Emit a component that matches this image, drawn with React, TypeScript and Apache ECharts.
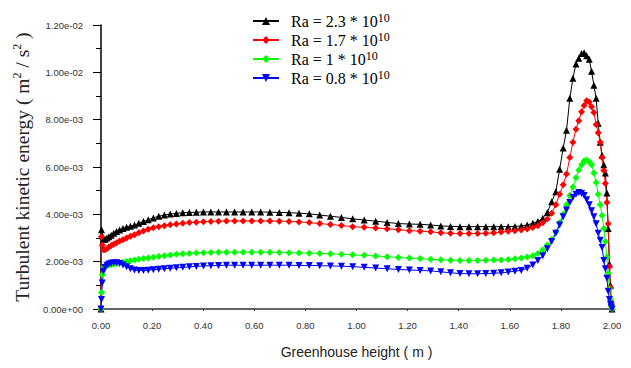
import React, { useEffect, useRef } from "react";
import * as echarts from "echarts";

// Greenhouse height (m) — shared mesh for all four series
const HEIGHT_M = [
  0, 0.002, 0.005, 0.01, 0.016, 0.023, 0.031, 0.04, 0.05, 0.061,
  0.073, 0.086, 0.1, 0.115, 0.131, 0.148, 0.166, 0.185, 0.205, 0.226,
  0.248, 0.271, 0.295, 0.32, 0.346, 0.373, 0.401, 0.43, 0.46, 0.491,
  0.523, 0.556, 0.59, 0.625, 0.661, 0.698, 0.736, 0.775, 0.815, 0.856,
  0.898, 0.941, 0.985, 1.03, 1.075, 1.12, 1.164, 1.207, 1.249, 1.29,
  1.33, 1.368, 1.405, 1.44, 1.474, 1.506, 1.537, 1.566, 1.594, 1.62,
  1.645, 1.668, 1.69, 1.71, 1.729, 1.747, 1.764, 1.78, 1.795, 1.809,
  1.822, 1.835, 1.847, 1.859, 1.87, 1.881, 1.891, 1.901, 1.911, 1.92,
  1.929, 1.938, 1.946, 1.954, 1.961, 1.968, 1.974, 1.98, 1.985, 1.99,
  1.994, 1.997, 2.0,
];

// Turbulent kinetic energy, in units of 1e-3 m²/s²
const TKE_UNIT = 1e-3;

const RA_2_3 = [
  0, 3.35, 3.1, 2.95, 2.95, 3.0, 3.05, 3.12, 3.2, 3.27,
  3.34, 3.4, 3.45, 3.5, 3.55, 3.62, 3.7, 3.77, 3.85, 3.92,
  3.97, 4.01, 4.04, 4.07, 4.08, 4.09, 4.1, 4.1, 4.1, 4.1,
  4.1, 4.1, 4.1, 4.1, 4.09, 4.08, 4.07, 4.05, 4.02, 3.97,
  3.92, 3.87, 3.81, 3.76, 3.71, 3.66, 3.61, 3.59, 3.58, 3.55,
  3.51, 3.49, 3.48, 3.48, 3.48, 3.48, 3.48, 3.48, 3.48, 3.49,
  3.51, 3.55, 3.62, 3.7, 3.83, 4.08, 4.53, 4.95, 5.9, 6.8,
  7.55, 8.9, 9.75, 10.35, 10.6, 10.8, 10.83, 10.7, 10.55, 10.05,
  9.45, 8.9, 7.85, 7.05, 6.5, 6.1, 5.75, 4.9, 3.4, 1.9,
  1.0, 0.3, 0,
];

const RA_1_7 = [
  0, 3.05, 2.7, 2.5, 2.5, 2.55, 2.62, 2.68, 2.74, 2.8,
  2.87, 2.93, 3.0, 3.07, 3.14, 3.22, 3.3, 3.37, 3.43, 3.48,
  3.52, 3.56, 3.59, 3.62, 3.65, 3.67, 3.69, 3.7, 3.71, 3.72,
  3.72, 3.72, 3.72, 3.72, 3.72, 3.71, 3.7, 3.68, 3.65, 3.61,
  3.57, 3.53, 3.48, 3.45, 3.42, 3.39, 3.35, 3.31, 3.29, 3.26,
  3.22, 3.2, 3.19, 3.19, 3.19, 3.2, 3.22, 3.25, 3.28, 3.31,
  3.34, 3.38, 3.44, 3.52, 3.64, 3.8, 4.05, 4.4, 4.85, 5.25,
  5.7, 6.4, 7.05, 7.6, 7.95, 8.33, 8.6, 8.8, 8.75, 8.55,
  8.3, 7.8, 7.45, 7.05, 6.4, 5.85, 5.3, 4.5, 3.6, 1.8,
  0.9, 0.3, 0,
];

const RA_1_0 = [
  0, 0.7, 1.45, 1.76, 1.8, 1.84, 1.86, 1.88, 1.9, 1.92,
  1.95, 1.98, 2.01, 2.04, 2.07, 2.1, 2.13, 2.16, 2.19, 2.22,
  2.25, 2.28, 2.31, 2.33, 2.35, 2.37, 2.38, 2.39, 2.4, 2.4,
  2.4, 2.4, 2.4, 2.4, 2.4, 2.39, 2.38, 2.37, 2.36, 2.35,
  2.33, 2.31, 2.29, 2.27, 2.24, 2.21, 2.18, 2.15, 2.13, 2.1,
  2.08, 2.06, 2.05, 2.05, 2.05, 2.06, 2.07, 2.07, 2.09, 2.12,
  2.15, 2.2, 2.25, 2.35, 2.5, 2.7, 2.95, 3.25, 3.65, 4.0,
  4.4, 4.8, 5.15, 5.55, 5.87, 6.1, 6.25, 6.3, 6.22, 6.1,
  5.75, 5.35, 4.85, 4.4, 3.95, 3.4, 2.85, 2.2, 1.5, 0.85,
  0.4, 0.12, 0,
];

const RA_0_8 = [
  0, 0.4, 1.1, 1.6, 1.75, 1.85, 1.9, 1.93, 1.95, 1.95,
  1.92, 1.86, 1.78, 1.7, 1.65, 1.63, 1.63, 1.64, 1.66, 1.68,
  1.7, 1.72, 1.74, 1.76, 1.78, 1.8, 1.82, 1.83, 1.84, 1.85,
  1.85, 1.85, 1.85, 1.85, 1.85, 1.85, 1.85, 1.84, 1.84, 1.83,
  1.82, 1.81, 1.79, 1.76, 1.73, 1.7, 1.67, 1.65, 1.63, 1.61,
  1.57, 1.53, 1.5, 1.49, 1.49, 1.5, 1.51, 1.53, 1.56, 1.6,
  1.63, 1.72, 1.86, 2.05, 2.25, 2.55, 2.85, 3.2, 3.55, 3.9,
  4.18, 4.5, 4.72, 4.85, 4.92, 4.88, 4.8, 4.62, 4.4, 4.15,
  3.9, 3.6, 3.2, 2.9, 2.6, 2.05, 1.7, 1.3, 0.75, 0.4,
  0.2, 0.08, 0,
];

const SERIES_NAMES = ["Ra = 2.3 * 10", "Ra = 1.7 * 10", "Ra = 1 * 10", "Ra = 0.8 * 10"];
const SERIES_VALUES = [RA_2_3, RA_1_7, RA_1_0, RA_0_8];
const SERIES_COLORS = ["#000000", "#ff0000", "#00ff00", "#0000ff"];
const SERIES_SYMBOLS = ["triangle", "diamond", "diamond", "triangle"];
const SERIES_ROTATE = [0, 0, 0, 180];
const SERIES_SIZES = [7, 7, 7, 7];

const X_MIN = 0;
const X_MAX = 2;
const X_STEP = 0.2;
const Y_MIN = 0;
const Y_MAX = 0.012;
const Y_STEP = 0.002;

function sci(v: number): string {
  const s = v.toExponential(2);
  const [m, e] = s.split("e");
  const sign = e[0] === "-" ? "-" : "+";
  const digits = e.replace(/[+-]/, "").padStart(2, "0");
  return `${m}e${sign}${digits}`;
}

export default function App() {
  const ref = useRef<HTMLDivElement>(null);

  useEffect(() => {
    if (!ref.current) return;
    const chart = echarts.init(ref.current, null, { renderer: "svg" });

    const series = SERIES_NAMES.map((name, k) => ({
      name,
      type: "line",
      data: HEIGHT_M.map((x, i) => [x, SERIES_VALUES[k][i] * TKE_UNIT]),
      symbol: SERIES_SYMBOLS[k],
      symbolRotate: SERIES_ROTATE[k],
      symbolSize: SERIES_SIZES[k],
      showAllSymbol: true,
      lineStyle: { color: SERIES_COLORS[k], width: 1 },
      itemStyle: { color: SERIES_COLORS[k] },
      emphasis: { disabled: true },
    }));

    chart.setOption({
      animation: false,
      grid: { left: 101, right: 19, top: 25, bottom: 59, containLabel: false },
      legend: {
        orient: "vertical",
        left: 247,
        top: 7,
        itemWidth: 26,
        itemHeight: 10,
        itemGap: 2,
        data: SERIES_NAMES,
        formatter: (name: string) => `{b|${name}}{s|10}`,
        textStyle: {
          rich: {
            b: {
              fontFamily: "Liberation Serif",
              fontSize: 16,
              color: "#000",
              lineHeight: 18,
              padding: [0, 0, 0, 7],
            },
            s: {
              fontFamily: "Liberation Serif",
              fontSize: 12,
              color: "#000",
              lineHeight: 12,
              verticalAlign: "top",
            },
          },
        },
      },
      xAxis: {
        type: "value",
        min: X_MIN,
        max: X_MAX,
        interval: X_STEP,
        name: "Greenhouse height ( m )",
        nameLocation: "middle",
        nameGap: 36,
        nameTextStyle: { fontFamily: "Liberation Sans", fontSize: 14, color: "#222" },
        axisLine: { show: true, lineStyle: { color: "#333", width: 1.5 } },
        axisTick: { show: true, length: 2, lineStyle: { color: "#333" } },
        axisLabel: {
          margin: 11,
          fontFamily: "Liberation Sans",
          fontSize: 9.5,
          color: "#333",
          formatter: (v: number) => v.toFixed(2),
        },
        splitLine: { show: false },
      },
      yAxis: {
        type: "value",
        min: Y_MIN,
        max: Y_MAX,
        interval: Y_STEP,
        name: "{t|Turbulent kinetic energy ( m}{s|2}{t| / s}{s|2}{t| )}",
        nameLocation: "middle",
        nameRotate: 90,
        nameGap: 65,
        nameTextStyle: {
          rich: {
            t: { fontFamily: "Liberation Serif", fontSize: 19.5, color: "#222", lineHeight: 22 },
            s: { fontFamily: "Liberation Serif", fontSize: 12, color: "#222", lineHeight: 12, verticalAlign: "top" },
          },
        },
        axisLine: { show: true, lineStyle: { color: "#000", width: 1.5 } },
        axisTick: { show: true, length: 8, lineStyle: { color: "#000" } },
        minorTick: { show: true, splitNumber: 2, length: 5, lineStyle: { color: "#000" } },
        axisLabel: {
          margin: 18,
          fontFamily: "Liberation Sans",
          fontSize: 9.5,
          color: "#333",
          formatter: (v: number) => sci(v),
        },
        splitLine: { show: false },
        minorSplitLine: { show: false },
      },
      series,
    });

    return () => chart.dispose();
  }, []);

  return (
    <div
      ref={ref}
      style={{ position: "absolute", left: 0, top: 0, width: 631, height: 368, background: "#fff" }}
    />
  );
}
